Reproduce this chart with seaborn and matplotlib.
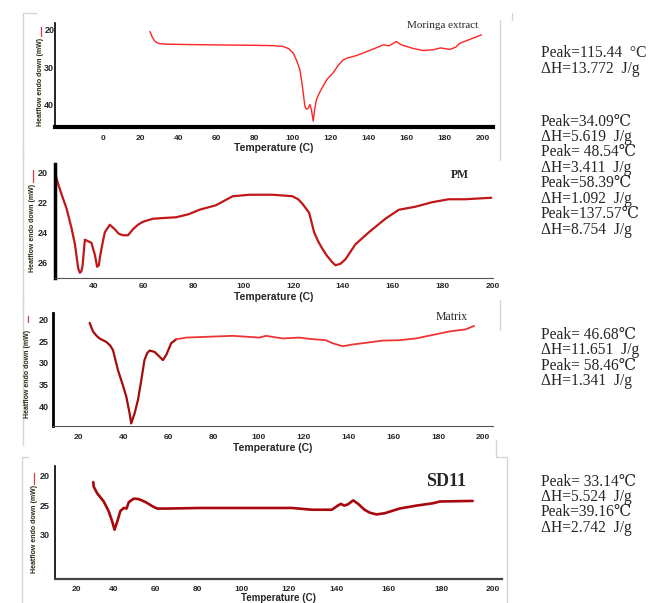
import matplotlib
matplotlib.use("Agg")
import matplotlib.pyplot as plt
from matplotlib.lines import Line2D
import numpy as np
import pandas as pd
import seaborn as sns

# ---- data ----
moringa_T = [24.9, 26.0, 27.2, 28.4, 30.5, 33.7, 45, 60, 80, 90, 95, 98, 100.4, 102.2, 103.9, 105.2,
             106.5, 107.3, 108.2, 109.2, 110, 110.9, 111.6, 112.6, 114, 116, 118.5, 121.4,
             124, 126.7, 129, 132, 135, 139, 143, 147.7, 151, 154.7, 157, 160, 164, 168.8, 174, 178,
             182.8, 186, 188, 194, 199.5]
moringa_H = [20.4, 21.8, 22.8, 23.4, 23.7, 23.8, 23.9, 24.0, 24.1, 24.2, 24.4, 25.0, 26.2, 28.2, 30.7, 35.0,
             40.4, 41.2, 41.0, 40.0, 41.5, 44.4, 41.5, 38.7, 37.0, 35.1, 33.0, 31.5,
             29.5, 28.0, 27.5, 27.1, 26.6, 25.8, 25.0, 24.0, 24.2, 23.1, 23.9, 24.4, 25.0, 25.5, 25.3, 24.8,
             25.2, 24.6, 23.6, 22.4, 21.3]

pm_T = [24.4, 25.0, 25.7, 27.3, 29, 31, 32.4, 33.7, 34.4, 35.0, 35.5, 36.0, 36.4, 37.7, 39, 40.4, 41.3,
        42.0, 42.4, 43.4, 44.4, 46.4, 48.4, 50, 51.7, 53.7, 55.7, 57.7, 59.7, 63.7, 68, 73, 78, 82.4, 89,
        95.7, 102.4, 111.7, 116, 119.7, 122, 123.7, 126.4, 128.4, 130, 131.7, 133.7, 135.7, 137, 139,
        141, 145, 150.4, 157, 162.4, 169, 175.7, 182.4, 189, 199.5]
pm_H = [20.0, 20.4, 20.8, 21.6, 22.4, 23.7, 24.8, 26.4, 26.7, 26.6, 26.2, 25.2, 24.5, 24.6, 24.7, 25.5, 26.3,
        26.2, 25.7, 24.8, 24.0, 23.5, 23.8, 24.1, 24.2, 24.2, 23.8, 23.5, 23.3, 23.1, 23.05, 23.0, 22.8,
        22.5, 22.2, 21.6, 21.5, 21.5, 21.55, 21.6, 21.8, 22.1, 22.7, 24.0, 24.6, 25.1, 25.6, 26.0, 26.2,
        26.1, 25.8, 24.8, 24.0, 23.1, 22.5, 22.3, 22.0, 21.8, 21.8, 21.7]

matrix_T = [24.9, 26.4, 28, 29.3, 32.3, 34, 35.3, 37.5, 39.7, 41.2, 42.7, 43.4, 44.9, 46.4, 47.9, 49.3,
            50.5, 51.6, 53.8, 56, 57.5, 59, 61.2, 63.4, 67.9, 88.6, 100.4, 103.4, 110.8, 118.2, 122.7,
            130, 133, 137.5, 141.9, 147.9, 155.3, 162.7, 170.1, 177.5, 184.9, 192.3, 196]
matrix_H = [20.8, 22.8, 23.8, 24.4, 25.2, 26.0, 27.1, 31.7, 35.2, 37.8, 41.7, 44.0, 41.7, 38.6, 34.0, 29.4,
            27.8, 27.2, 27.5, 28.6, 29.4, 28.2, 25.5, 24.6, 24.2, 23.8, 24.2, 23.8, 24.4, 24.2, 24.5,
            24.8, 25.5, 26.2, 25.8, 25.4, 24.9, 24.8, 24.4, 23.6, 22.8, 22.3, 21.5]

sd11_T = [29.2, 29.5, 31.3, 34.8, 37.5, 39.3, 40.5, 41.8, 43.3, 44.9, 46.2, 47.3, 49.7, 52.1, 55.3,
          58.5, 60.8, 65.6, 81.6, 96.4, 121.4, 129.7, 137.9, 140.3, 141.5, 142.8, 144.2, 146.3, 148.2,
          150.7, 152.7, 155.3, 158.5, 164.2, 170.5, 176.8, 179.3, 192.1]
sd11_H = [21.1, 21.9, 23.0, 24.4, 26.1, 27.8, 29.2, 27.8, 26.0, 25.5, 25.6, 24.5, 23.9, 24.0, 24.5,
          25.2, 25.6, 25.6, 25.5, 25.5, 25.5, 25.8, 25.8, 25.1, 24.8, 25.1, 24.9, 24.2, 24.8,
          25.8, 26.3, 26.6, 26.4, 25.6, 25.1, 24.7, 24.4, 24.3]

titles = ["Moringa extract", "PM", "Matrix", "SD11"]

notes_moringa = ["Peak=115.44  °C", "ΔH=13.772  J/g"]
notes_pm = ["Peak=34.09℃", "ΔH=5.619  J/g", "Peak= 48.54℃", "ΔH=3.411  J/g",
            "Peak=58.39℃", "ΔH=1.092  J/g", "Peak=137.57℃", "ΔH=8.754  J/g"]
notes_matrix = ["Peak= 46.68℃", "ΔH=11.651  J/g", "Peak= 58.46℃", "ΔH=1.341  J/g"]
notes_sd11 = ["Peak= 33.14℃", "ΔH=5.524  J/g", "Peak=39.16℃", "ΔH=2.742  J/g"]

# the SD11 panel has an uneven temperature axis in the original image
sd11_scale_T = [-100, 20, 40, 60, 80, 100, 120, 140, 160, 180, 200, 400]
sd11_scale_px = [-138, 75.5, 113, 155, 196.7, 241.5, 288, 336.5, 388, 441, 492.5, 992.5]

W, H = 664, 603
sns.set_style("white")
fig = plt.figure(figsize=(W / 100, H / 100), dpi=100)

SANS = ["Liberation Sans Narrow", "Liberation Sans", "DejaVu Sans"]
SERIF = ["Liberation Serif", "DejaVu Serif", "DejaVu Sans"]


def box(l, t, r, b):
    return [l / W, 1 - b / H, (r - l) / W, (b - t) / H]


def fline(xs, ys, **kw):
    fig.add_artist(Line2D([x / W for x in xs], [1 - y / H for y in ys],
                          transform=fig.transFigure, **kw))


def ftext(x, y, s, **kw):
    fig.text(x / W, 1 - y / H, s, **kw)


def style_axis(ax, xlim, ylim, xticks, yticks, left_lw, bottom_lw, bottom_col, xpad, ypad):
    ax.set_xlim(*xlim)
    ax.set_ylim(*ylim)
    ax.set_xticks(xticks)
    ax.set_yticks(yticks)
    ax.set_xticklabels([str(v) for v in xticks], fontfamily=SANS, fontweight="bold", fontsize=6)
    ax.set_yticklabels([str(v) for v in yticks], fontfamily=SANS, fontweight="bold", fontsize=6.5)
    ax.tick_params(axis="x", length=0, pad=xpad)
    ax.tick_params(axis="y", length=0, pad=ypad)
    for s in ["top", "right"]:
        ax.spines[s].set_visible(False)
    ax.spines["left"].set_linewidth(left_lw)
    ax.spines["left"].set_color("black")
    ax.spines["bottom"].set_linewidth(bottom_lw)
    ax.spines["bottom"].set_color(bottom_col)
    ax.set_xlabel("Temperature (C)", fontfamily=SANS, fontweight="bold", fontsize=7.5, labelpad=1)
    ax.set_ylabel("")
    ax.patch.set_alpha(0)


def ylab(x, y_top, y_bot, mark_top):
    ftext(x, (y_top + y_bot) / 2, "Heatflow endo down (mW)", rotation=90,
          ha="center", va="center", fontsize=5.0, fontweight="bold", family=SANS, color="#2b2710")
    fline([x, x], [mark_top, y_top - 1], color="#d23a4a", lw=0.9)


# ---- panel 1: Moringa extract ----
ax1 = fig.add_axes(box(55, 22.7, 493, 126.7))
sns.lineplot(x=moringa_T, y=moringa_H, ax=ax1, color="#ff2424", lw=1.0, sort=False, estimator=None)
style_axis(ax1, (-25.1, 205.6), (45.9, 18.05), list(range(0, 201, 20)), [20, 30, 40],
           1.2, 3.0, "black", 6, 0.5)
ftext(443, 26, titles[0], family=SERIF, fontsize=8, ha="center", va="center")
ylab(40.5, 37, 126, 27)

# ---- panel 2: PM ----
ax2 = fig.add_axes(box(55, 164.3, 493, 277.7))
sns.lineplot(x=pm_T, y=pm_H, ax=ax2, color="#c01818", lw=1.6, sort=False, estimator=None)
style_axis(ax2, (24.4, 200.2), (27.03, 19.47), list(range(40, 201, 20)), [20, 22, 24, 26],
           2.5, 0.8, "#555555", 4, 5)
ftext(460, 175, titles[1], family=SERIF, fontsize=8.5, fontweight="bold", ha="center", va="center")
ylab(33, 183, 273, 170)

# ---- panel 3: Matrix ----
ax3 = fig.add_axes(box(53, 313.3, 493, 426))
cut = 24
sns.lineplot(x=matrix_T[:cut], y=matrix_H[:cut], ax=ax3, color="#a50c0c", lw=1.6, sort=False, estimator=None)
sns.lineplot(x=matrix_T[cut - 1:], y=matrix_H[cut - 1:], ax=ax3, color="#ee3434", lw=1.3,
             sort=False, estimator=None)
style_axis(ax3, (8.6, 204.4), (44.6, 18.6), list(range(20, 201, 20)), [20, 25, 30, 35, 40],
           2.0, 0.8, "#555555", 6, 3)
ftext(452, 317, titles[2], family=SERIF, fontsize=8.5, ha="center", va="center")
ylab(28, 323, 425, 316)

# ---- panel 4: SD11 ----
ax4 = fig.add_axes(box(55, 465.7, 502, 579))
sns.lineplot(x=sd11_T, y=sd11_H, ax=ax4, color="#a8070c", lw=1.9, sort=False, estimator=None)
ax4.set_xscale("function", functions=(lambda t: np.interp(t, sd11_scale_T, sd11_scale_px),
                                      lambda p: np.interp(p, sd11_scale_px, sd11_scale_T)))
style_axis(ax4, (8.2, 203.6), (37.6, 18.3), list(range(20, 201, 20)), [20, 25, 30],
           1.2, 1.6, "#444444", 5, 4)
ax4.xaxis.label.set_fontsize(7)
ax4.xaxis.labelpad = 0
ftext(446, 481.5, titles[3], family=SERIF, fontsize=13, fontweight="bold", ha="center", va="center")
ylab(34, 485, 573, 473)

# faint frame remnants of the pasted screenshots
gray = dict(color="#d6d6d6", lw=1.0)
fline([36, 23, 23], [13, 13, 157], **gray)
fline([512, 512], [13, 20], **gray)
fline([500, 500], [20, 160], **gray)
fline([23, 23], [150, 305], **gray)
fline([23, 23], [300, 445], **gray)
fline([500, 500], [300, 330], **gray)
fline([28, 22, 22], [457, 457, 603], **gray)
fline([496, 496, 507, 507], [440, 457, 457, 603], **gray)

# ---- peak notes on the right ----
for lines, ys in [(notes_moringa, [53, 69]),
                  (notes_pm, [121.7, 136.7, 152.3, 167.7, 183.3, 199, 214.3, 230]),
                  (notes_matrix, [335, 350, 365.7, 381]),
                  (notes_sd11, [481.7, 496.7, 512.3, 527.7])]:
    for s, y in zip(lines, ys):
        ftext(541, y, s, family=SERIF, fontsize=11.2, ha="left", va="center")

fig.savefig("out.png", dpi=100)
